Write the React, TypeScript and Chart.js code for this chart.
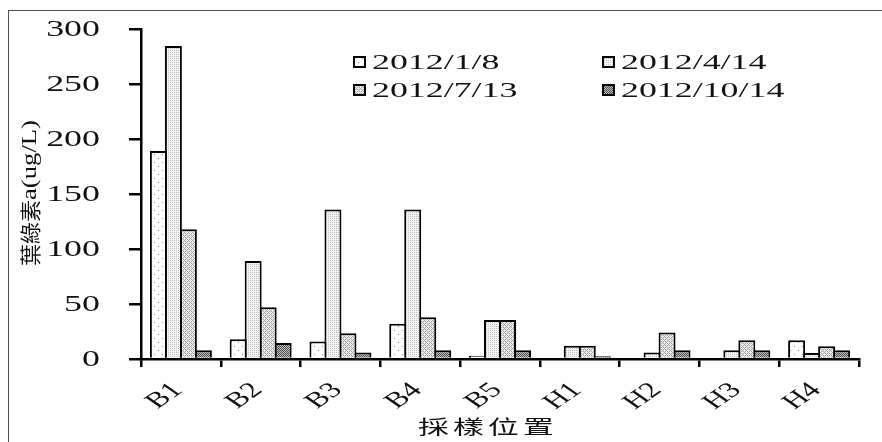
import React, { useEffect, useRef } from 'react';
import { Chart, registerables } from 'chart.js';

Chart.register(...registerables);

// ---- data ----
const categories = ['B1', 'B2', 'B3', 'B4', 'B5', 'H1', 'H2', 'H3', 'H4'];
const seriesLabels = ['2012/1/8', '2012/4/14', '2012/7/13', '2012/10/14'];
const jan8 = [189, 18, 16, 32, 3, 0, 0, 0, 17];
const apr14 = [284.5, 89, 136, 136, 35.5, 12, 6, 8, 5.5];
const jul13 = [118, 47, 23.5, 38, 35.5, 12, 24, 17, 11.5];
const oct14 = [8, 14.5, 6, 8, 8, 2.5, 8, 8, 8];
const yMin = 0;
const yMax = 300;
const yStep = 50;
const xTitle = '採樣位置';
const yTitleCJK = '葉綠素';
const yTitleLatin = 'a(ug/L)';

const SERIF = '"Liberation Serif", "Times New Roman", serif';
const CJK = '"Noto Sans CJK TC", "Noto Sans CJK SC", sans-serif';

function makePattern(kind: string): CanvasPattern | string {
  const c = document.createElement('canvas');
  const ctx = c.getContext('2d');
  if (!ctx) return '#ccc';
  if (kind === 'dots') {
    c.width = 8; c.height = 8;
    ctx.fillStyle = '#ffffff'; ctx.fillRect(0, 0, 8, 8);
    ctx.fillStyle = '#8c8c8c';
    ctx.fillRect(2, 2, 1, 1);
    ctx.fillRect(6, 6, 1, 1);
  } else if (kind === 'fine') {
    c.width = 2; c.height = 2;
    ctx.fillStyle = '#f3f3f3'; ctx.fillRect(0, 0, 2, 2);
    ctx.fillStyle = '#c2c2c2'; ctx.fillRect(0, 0, 1, 1);
  } else if (kind === 'cross') {
    c.width = 4; c.height = 4;
    ctx.fillStyle = '#ececec'; ctx.fillRect(0, 0, 4, 4);
    ctx.fillStyle = '#a4a4a4';
    for (let x = 0; x < 4; x++) {
      for (let y = 0; y < 4; y++) {
        if ((x + y) % 4 === 0 || (x - y + 4) % 4 === 0) ctx.fillRect(x, y, 1, 1);
      }
    }
  } else {
    c.width = 2; c.height = 2;
    ctx.fillStyle = '#bdbdbd'; ctx.fillRect(0, 0, 2, 2);
    ctx.fillStyle = '#4e4e4e';
    ctx.fillRect(0, 0, 1, 1);
    ctx.fillRect(1, 1, 1, 1);
  }
  const p = ctx.createPattern(c, 'repeat');
  return p || '#ccc';
}

const decorPlugin = {
  id: 'decor',
  afterDraw(chart: any) {
    const ctx: CanvasRenderingContext2D = chart.ctx;
    const area = chart.chartArea;
    const xs = chart.scales.x;
    const ys = chart.scales.y;
    ctx.save();
    ctx.fillStyle = '#111';

    // y tick labels (horizontally stretched like the reference)
    ctx.font = `23px ${SERIF}`;
    ctx.textAlign = 'right';
    ctx.textBaseline = 'middle';
    ys.ticks.forEach((t: any) => {
      const py = ys.getPixelForValue(t.value);
      ctx.save();
      ctx.translate(area.left - 41, py + 1);
      ctx.scale(1.56, 1);
      ctx.fillText(String(t.value), 0, 0);
      ctx.restore();
    });

    // x tick labels, rotated 45 degrees
    ctx.font = `22px ${SERIF}`;
    ctx.textAlign = 'right';
    ctx.textBaseline = 'middle';
    const labels: string[] = chart.data.labels;
    labels.forEach((lab, i) => {
      const px = xs.getPixelForValue(i);
      ctx.save();
      ctx.translate(px - 3, area.bottom + 28);
      ctx.scale(1.45, 1);
      ctx.rotate(-Math.PI / 4);
      ctx.fillText(lab, 0, 0);
      ctx.restore();
    });

    // x title
    ctx.font = `22px ${CJK}`;
    ctx.textAlign = 'center';
    ctx.textBaseline = 'middle';
    const chars = Array.from(xTitle);
    const pitch = 35;
    const cx = (area.left + area.right) / 2 - 14;
    const startX = cx - (pitch * (chars.length - 1)) / 2;
    chars.forEach((ch, i) => {
      ctx.save();
      ctx.translate(startX + i * pitch, area.bottom + 68);
      ctx.scale(1.4, 0.88);
      ctx.fillText(ch, 0, 0);
      ctx.restore();
    });

    // y title (rotated)
    ctx.save();
    ctx.translate(area.left - 111, area.bottom - 93);
    ctx.scale(0.95, 1);
    ctx.rotate(-Math.PI / 2);
    ctx.textAlign = 'left';
    ctx.textBaseline = 'middle';
    ctx.font = `22px ${CJK}`;
    ctx.fillText(yTitleCJK, 0, 0);
    const wC = ctx.measureText(yTitleCJK).width;
    ctx.font = `22px ${SERIF}`;
    const wL = ctx.measureText(yTitleLatin).width;
    ctx.translate(wC, 1);
    ctx.scale(80 / wL, 1);
    ctx.fillText(yTitleLatin, 0, 0);
    ctx.restore();

    // legend inside plot area, 2 columns x 2 rows
    chart.data.datasets.forEach((ds: any, i: number) => {
      const col = i % 2;
      const row = Math.floor(i / 2);
      const bx = area.left + 212 + col * 249;
      const by = area.top + 33 + row * 28;
      ctx.fillStyle = ds.backgroundColor;
      ctx.fillRect(bx, by - 6, 13, 12);
      ctx.strokeStyle = '#000';
      ctx.lineWidth = 2;
      ctx.strokeRect(bx + 1, by - 5, 11, 10);
      ctx.fillStyle = '#111';
      ctx.font = `22px ${SERIF}`;
      ctx.textAlign = 'left';
      ctx.textBaseline = 'middle';
      ctx.save();
      ctx.translate(bx + 19, by + 1);
      ctx.scale(1.63, 1);
      ctx.fillText(ds.label, 0, 0);
      ctx.restore();
    });

    ctx.restore();
  },
};

export default function App() {
  const ref = useRef<HTMLCanvasElement | null>(null);

  useEffect(() => {
    const canvas = ref.current;
    if (!canvas) return;
    const patterns = [makePattern('dots'), makePattern('fine'), makePattern('cross'), makePattern('dark')];
    const values = [jan8, apr14, jul13, oct14];
    const chart = new Chart(canvas, {
      type: 'bar',
      data: {
        labels: categories,
        datasets: values.map((v, i) => ({
          label: seriesLabels[i],
          data: v,
          backgroundColor: patterns[i] as any,
          borderColor: '#000',
          borderWidth: 2,
          categoryPercentage: 0.752,
          barPercentage: 1.133,
        })),
      },
      options: {
        responsive: false,
        animation: false,
        devicePixelRatio: 1,
        layout: { padding: { left: 0, top: 29, right: 23, bottom: 0 } },
        plugins: {
          legend: { display: false },
          tooltip: { enabled: false },
          title: { display: false },
        },
        scales: {
          x: {
            type: 'category',
            offset: true,
            z: 1,
            grid: {
              display: true,
              offset: true,
              drawOnChartArea: false,
              drawTicks: true,
              tickLength: 8,
              color: '#000',
              lineWidth: 2.5,
            },
            border: { display: true, color: '#000', width: 2.5 },
            ticks: { display: false },
            afterFit: (s: any) => { s.height = 83; },
          },
          y: {
            min: yMin,
            max: yMax,
            z: 1,
            ticks: { display: false, stepSize: yStep },
            grid: {
              display: true,
              drawOnChartArea: false,
              drawTicks: true,
              tickLength: 12,
              color: '#000',
              lineWidth: 2.5,
            },
            border: { display: true, color: '#000', width: 2.5 },
            afterFit: (s: any) => { s.width = 141; },
          },
        },
      },
      plugins: [decorPlugin],
    });
    return () => chart.destroy();
  }, []);

  return (
    <>
      <div
        style={{
          position: 'fixed',
          left: 8,
          top: 10,
          width: 1000,
          height: 1000,
          borderTop: '1px solid #505050',
          borderLeft: '1px solid #505050',
          boxSizing: 'border-box',
          pointerEvents: 'none',
        }}
      />
      <canvas
        ref={ref}
        width={882}
        height={442}
        style={{ position: 'fixed', left: 0, top: 0, width: 882, height: 442 }}
      />
    </>
  );
}
